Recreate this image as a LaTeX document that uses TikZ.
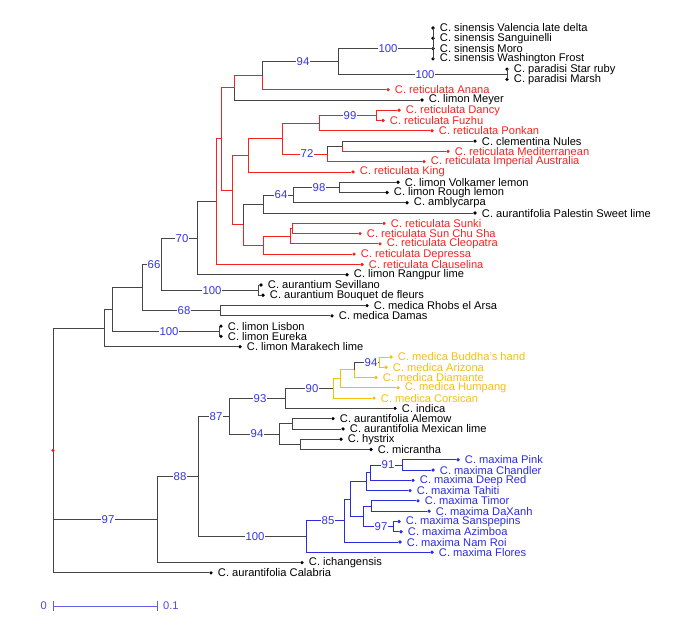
\documentclass[tikz,border=0pt]{standalone}
\usepackage{fontspec}
\setmainfont{Liberation Sans}
\usepackage{tikz}
\definecolor{citrusred}{HTML}{F52222}
\definecolor{citrusblue}{HTML}{2B2BE0}
\definecolor{citrusgold}{HTML}{F7BE10}
\definecolor{bootblue}{HTML}{3535E0}
\definecolor{edgegray}{HTML}{454545}
\tikzset{
  tip/.style={circle, inner sep=0pt, minimum size=3.1pt},
  leaf/.style={inner xsep=2pt, inner ysep=0pt, font=\fontsize{9.5}{10}\selectfont},
  boot/.style={fill=white, inner sep=0.6pt, text=bootblue, font=\fontsize{9.7}{11}\selectfont},
  branch/.style={line width=0.7pt}
}

\begin{document}
\begin{tikzpicture}[x=0.03cm, y=-0.3084cm]
\useasboundingbox (0,-1.7237) rectangle (685,59.852);

\foreach \nm/\x/\r in {root/53/42.09, n104/104/30.18, n112/112/28.37, n142/142/26.24, n161/161/23.97,
  n197/197/21.45, n216/216/17.89, n221/221/11.78, n234/234/6.8125, n262/262/5.625, n338/338/4.25,
  nsin/433/3, npar/507/5.5, n232/232/16.75, n248/248/13.375, n282/282/11.75, n319/319/10.25,
  n376/376/9.5, n327/327/13.25, n342/342/12.5, n243/243/20.125, n263a/263/18.125, n293/293/17.25,
  n339/339/16.5, n263b/263/22.125, n290/290/21.25, n292/292/20.5, n258/258/26.5, n220/220/28.5,
  n219/219/30.5, n157/157/48.8, n198/198/44.61, n229/229/38.77, n285/285/37.03, n333/333/36.06,
  n340/340/35.125, n354/354/34.25, n379/379/33.5, n279/279/40.5, n292b/292/39.5, n300/300/41.5,
  n306/306/50.45, n344/344/48.9, n350/350/46.81, n366/366/45.125, n370/370/44.25, n402/402/43.5,
  n363/363/48.5, n371/371/47.5, n393/393/49.5}
  \coordinate (\nm) at (\x,\r);

\foreach \nm/\x/\r/\cl/\txt in {
  val/433/1/black/C. sinensis Valencia late delta,
  san/433/2/black/C. sinensis Sanguinelli,
  mor/433/3/black/C. sinensis Moro,
  was/433/4/black/C. sinensis Washington Frost,
  sta/507/5/black/C. paradisi Star ruby,
  mar/507/6/black/C. paradisi Marsh,
  ana/388/7/citrusred/C. reticulata Anana,
  mey/422/8/black/C. limon Meyer,
  dan/399/9/citrusred/C. reticulata Dancy,
  fuz/383/10/citrusred/C. reticulata Fuzhu,
  pon/432/11/citrusred/C. reticulata Ponkan,
  cle/475/12/black/C. clementina Nules,
  med/448/13/citrusred/C. reticulata Mediterranean,
  imp/424/14/citrusred/C. reticulata Imperial Australia,
  kin/353/15/citrusred/C. reticulata King,
  vol/398/16/black/C. limon Volkamer lemon,
  rou/387/17/black/C. limon Rough lemon,
  amb/407/18/black/C. amblycarpa,
  pal/475/19/black/C. aurantifolia Palestin Sweet lime,
  sun/384/20/citrusred/C. reticulata Sunki,
  scs/360/21/citrusred/C. reticulata Sun Chu Sha,
  cleo/380/22/citrusred/C. reticulata Cleopatra,
  dep/354/23/citrusred/C. reticulata Depressa,
  cla/362/24/citrusred/C. reticulata Clauselina,
  ran/347/25/black/C. limon Rangpur lime,
  sev/261/26/black/C. aurantium Sevillano,
  bou/263/27/black/C. aurantium Bouquet de fleurs,
  rho/367/28/black/C. medica Rhobs el Arsa,
  dam/332/29/black/C. medica Damas,
  lis/221/30/black/C. limon Lisbon,
  eur/221/31/black/C. limon Eureka,
  mrk/240/32/black/C. limon Marakech lime,
  bud/391/33/citrusgold/C. medica Buddha's hand,
  ari/386/34/citrusgold/C. medica Arizona,
  dia/376/35/citrusgold/C. medica Diamante,
  hum/398/36/citrusgold/C. medica Humpang,
  cor/374/37/citrusgold/C. medica Corsican,
  ind/395/38/black/C. indica,
  ale/333/39/black/C. aurantifolia Alemow,
  mex/343/40/black/C. aurantifolia Mexican lime,
  hys/341/41/black/C. hystrix,
  mic/371/42/black/C. micrantha,
  pin/458/43/citrusblue/C. maxima Pink,
  cha/433/44/citrusblue/C. maxima Chandler,
  dee/413/45/citrusblue/C. maxima Deep Red,
  tah/410/46/citrusblue/C. maxima Tahiti,
  tim/418/47/citrusblue/C. maxima Timor,
  dax/429/48/citrusblue/C. maxima DaXanh,
  sps/399/49/citrusblue/C. maxima Sanspepins,
  azi/401/50/citrusblue/C. maxima Azimboa,
  nam/400/51/citrusblue/C. maxima Nam Roi,
  flo/432/52/citrusblue/C. maxima Flores,
  ich/302/53/black/C. ichangensis,
  cal/211/54/black/C. aurantifolia Calabria}
  \node[tip, fill=\cl, label={[leaf, text=\cl, label distance=2pt]right:\txt}] (\nm) at (\x,\r) {};

\foreach \a/\b/\cl in {
  root/n104/edgegray, root/n157/edgegray, root/cal/edgegray,
  n104/n112/edgegray, n104/mrk/edgegray, n112/n142/edgegray, n112/n219/edgegray,
  n219/lis/edgegray, n219/eur/edgegray, n142/n161/edgegray, n142/n220/edgegray,
  n220/rho/edgegray, n220/dam/edgegray, n161/n197/edgegray, n161/n258/edgegray,
  n258/sev/edgegray, n258/bou/edgegray, n197/n216/edgegray, n197/ran/edgegray,
  n216/n221/citrusred, n216/cla/citrusred, n221/n234/citrusred, n221/n232/citrusred,
  n234/n262/citrusred, n234/mey/edgegray, n262/n338/edgegray, n262/ana/citrusred,
  n338/nsin/edgegray, n338/npar/edgegray,
  nsin/val/edgegray, nsin/san/edgegray, nsin/mor/edgegray, nsin/was/edgegray,
  npar/sta/edgegray, npar/mar/edgegray,
  n232/n248/citrusred, n232/n243/citrusred, n248/n282/citrusred, n248/kin/citrusred,
  n282/n319/citrusred, n282/n327/citrusred, n319/n376/citrusred, n319/pon/citrusred,
  n376/dan/citrusred, n376/fuz/citrusred, n327/n342/edgegray, n327/imp/citrusred,
  n342/cle/edgegray, n342/med/citrusred,
  n243/n263a/edgegray, n243/n263b/citrusred, n263a/n293/edgegray, n263a/pal/edgegray,
  n293/n339/edgegray, n293/amb/edgegray, n339/vol/edgegray, n339/rou/edgegray,
  n263b/n290/citrusred, n263b/dep/citrusred, n290/n292/citrusred, n290/cleo/citrusred,
  n292/sun/citrusred, n292/scs/citrusred,
  n157/n198/edgegray, n157/ich/edgegray, n198/n229/edgegray, n198/n306/edgegray,
  n229/n285/edgegray, n229/n279/edgegray, n285/n333/edgegray, n285/ind/edgegray,
  n333/n340/citrusgold, n333/cor/citrusgold, n340/n354/citrusgold, n340/hum/citrusgold,
  n354/n379/edgegray, n354/dia/citrusgold, n379/bud/citrusgold, n379/ari/citrusgold,
  n279/n292b/edgegray, n279/n300/edgegray, n292b/ale/edgegray, n292b/mex/edgegray,
  n300/hys/edgegray, n300/mic/edgegray,
  n306/n344/citrusblue, n306/flo/citrusblue, n344/n350/citrusblue, n344/nam/citrusblue,
  n350/n366/citrusblue, n350/n363/citrusblue, n366/n370/citrusblue, n366/tah/citrusblue,
  n370/n402/citrusblue, n370/dee/citrusblue, n402/pin/citrusblue, n402/cha/citrusblue,
  n363/n371/citrusblue, n363/n393/citrusblue, n371/tim/citrusblue, n371/dax/citrusblue,
  n393/sps/citrusblue, n393/azi/citrusblue}
  \draw[branch, \cl] (\a) |- (\b);

\foreach \x/\r/\v [count=\i] in {388/3/100, 425/5.5/100, 303/4.25/94, 350/9.5/99, 307/13.25/72,
  319/16.5/98, 281/17.25/64, 182/21.45/70, 154/23.97/66, 212/26.5/100, 184/28.5/68, 169/30.5/100,
  371/33.5/94, 312/36.06/90, 260/37.03/93, 257/40.5/94, 216/38.77/87, 180/44.61/88, 255/50.45/100,
  328/48.9/85, 388/43.5/91, 381/49.5/97, 108/48.8/97}
  \node[boot] (bs\i) at (\x,\r) {\v};

\node[tip, fill=citrusred] (rootdot) at (root) {};

\coordinate (bar0) at (53,57.23);
\coordinate (bar1) at (157,57.23);
\draw[citrusblue!75, line width=0.6pt] (bar0) -- (bar1);
\draw[citrusblue!75, line width=0.6pt] ([yshift=-4pt]bar0) -- ([yshift=4pt]bar0);
\draw[citrusblue!75, line width=0.6pt] ([yshift=-4pt]bar1) -- ([yshift=4pt]bar1);
\node[leaf, text=citrusblue!85, left=3pt] (bartext0) at (bar0) {0};
\node[leaf, text=citrusblue!85, right=3pt] (bartext1) at (bar1) {0.1};
\end{tikzpicture}
\end{document}
